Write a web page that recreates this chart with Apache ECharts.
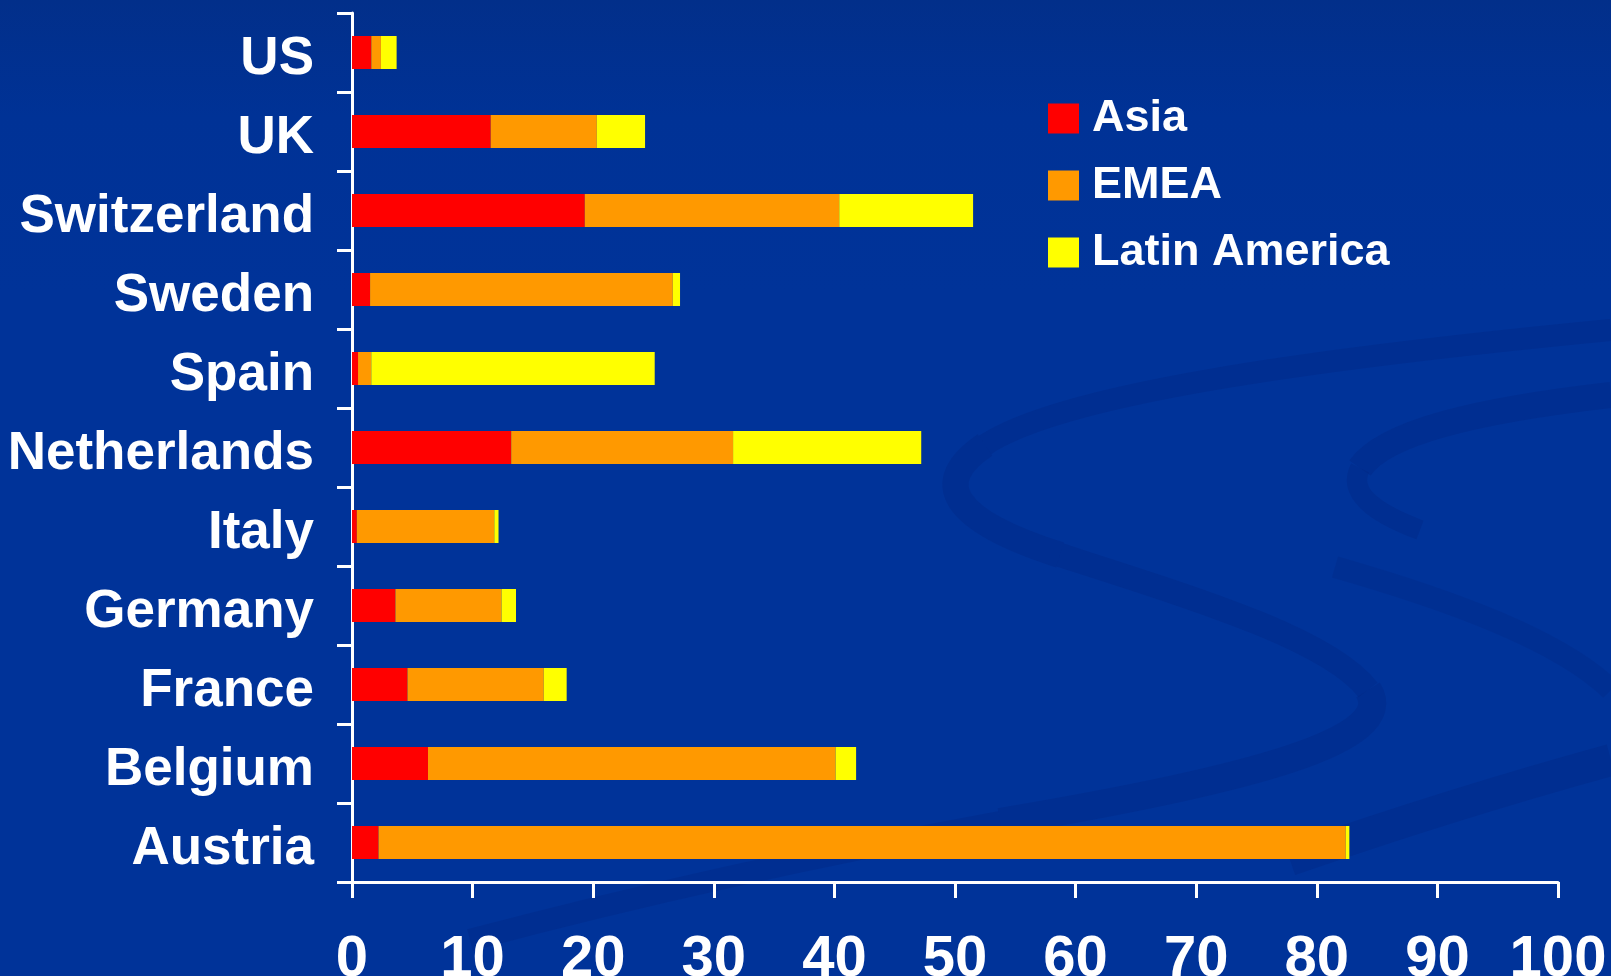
<!DOCTYPE html>
<html>
<head>
<meta charset="utf-8">
<title>Regional split by country</title>
<script src="https://cdn.jsdelivr.net/npm/echarts@6/dist/echarts.min.js"></script>
<style>
  html, body { margin: 0; padding: 0; background: #003399; }
  #chart { width: 1611px; height: 976px; }
</style>
</head>
<body>
<div id="chart"></div>
<script>
// Countries, listed top to bottom
const categories = ['US', 'UK', 'Switzerland', 'Sweden', 'Spain', 'Netherlands', 'Italy', 'Germany', 'France', 'Belgium', 'Austria'];

// Regional contributions per country
const asia  = [1.6, 11.5, 19.3, 1.5, 0.5, 13.2, 0.4, 3.6, 4.6, 6.3, 2.2];
const emea  = [0.8, 8.8, 21.1, 25.1, 1.1, 18.4, 11.4, 8.8, 11.3, 33.8, 80.2];
const latam = [1.3, 4.0, 11.1, 0.6, 23.5, 15.6, 0.35, 1.2, 1.9, 1.7, 0.3];

const seriesNames = ['Asia', 'EMEA', 'Latin America'];
const xTicks = { min: 0, max: 100, interval: 10 };

const FONT = '"Liberation Sans", Arial, sans-serif';
const RIBBON = 'rgba(0, 40, 130, 0.36)';

// one cubic segment of a backdrop swirl
function swirl(p0, c1, c2, p1, width, color) {
  return {
    type: 'bezierCurve', z: -10, silent: true,
    shape: { x1: p0[0], y1: p0[1], cpx1: c1[0], cpy1: c1[1], cpx2: c2[0], cpy2: c2[1], x2: p1[0], y2: p1[1] },
    style: { fill: null, stroke: color || RIBBON, lineWidth: width, lineCap: 'butt' }
  };
}

const chart = echarts.init(document.getElementById('chart'), null, { renderer: 'canvas' });

const barStyle = (color) => ({ color: color, borderWidth: 0 });

chart.setOption({
  animation: false,
  backgroundColor: {
    type: 'linear', x: 0, y: 0, x2: 0, y2: 1,
    colorStops: [
      { offset: 0, color: '#022f8a' },
      { offset: 0.12, color: '#003296' },
      { offset: 0.3, color: '#003399' },
      { offset: 1, color: '#003399' }
    ]
  },
  // decorative swirls in the backdrop
  graphic: [
    swirl([1611, 330], [1300, 360], [1060, 395], [985, 445], 22),
    swirl([985, 445], [930, 482], [950, 520], [1060, 555], 26),
    swirl([1060, 555], [1200, 600], [1330, 640], [1368, 690], 24),
    swirl([1368, 690], [1400, 740], [1250, 780], [1000, 822], 28),
    swirl([1000, 822], [820, 855], [640, 895], [470, 940], 22),
    swirl([1611, 395], [1480, 410], [1385, 432], [1360, 468], 26),
    swirl([1360, 468], [1348, 492], [1372, 512], [1420, 530], 20),
    swirl([1335, 567], [1450, 600], [1560, 640], [1611, 690], 22, 'rgba(0, 40, 130, 0.28)'),
    swirl([1290, 860], [1420, 815], [1520, 785], [1611, 760], 32)
  ],
  legend: {
    orient: 'vertical',
    left: 1048,
    top: 96,
    padding: 0,
    itemWidth: 31,
    itemHeight: 30,
    itemGap: 22,
    icon: 'rect',
    data: seriesNames,
    textStyle: {
      color: '#ffffff',
      fontFamily: FONT,
      fontWeight: 'bold',
      fontSize: 45,
      padding: [0, 0, 0, 8]
    }
  },
  grid: {
    left: 352,
    right: 53,
    top: 13,
    bottom: 94,
    containLabel: false,
    outerBoundsMode: 'none'
  },
  xAxis: {
    type: 'value',
    min: xTicks.min,
    max: xTicks.max,
    interval: xTicks.interval,
    axisLine: { show: true, lineStyle: { color: '#ffffff', width: 3 } },
    axisTick: { show: true, length: 16, lineStyle: { color: '#ffffff', width: 3 } },
    splitLine: { show: false },
    axisLabel: {
      color: '#ffffff',
      fontFamily: FONT,
      fontWeight: 'bold',
      fontSize: 58,
      margin: 49
    }
  },
  yAxis: {
    type: 'category',
    inverse: true,
    data: categories,
    axisLine: { show: true, lineStyle: { color: '#ffffff', width: 3 } },
    axisTick: { show: true, length: 15, lineStyle: { color: '#ffffff', width: 3 } },
    splitLine: { show: false },
    axisLabel: {
      margin: 38,
      formatter: (name) => '{c|' + name + '}',
      rich: {
        c: {
          color: '#ffffff',
          fontFamily: FONT,
          fontWeight: 'bold',
          fontSize: 53,
          padding: [14, 0, 0, 0]
        }
      }
    }
  },
  series: [
    { name: seriesNames[0], type: 'bar', stack: 'total', barWidth: 33, data: asia,  itemStyle: barStyle('#ff0000') },
    { name: seriesNames[1], type: 'bar', stack: 'total', barWidth: 33, data: emea,  itemStyle: barStyle('#ff9900') },
    { name: seriesNames[2], type: 'bar', stack: 'total', barWidth: 33, data: latam, itemStyle: barStyle('#ffff00') }
  ]
});
</script>
</body>
</html>
